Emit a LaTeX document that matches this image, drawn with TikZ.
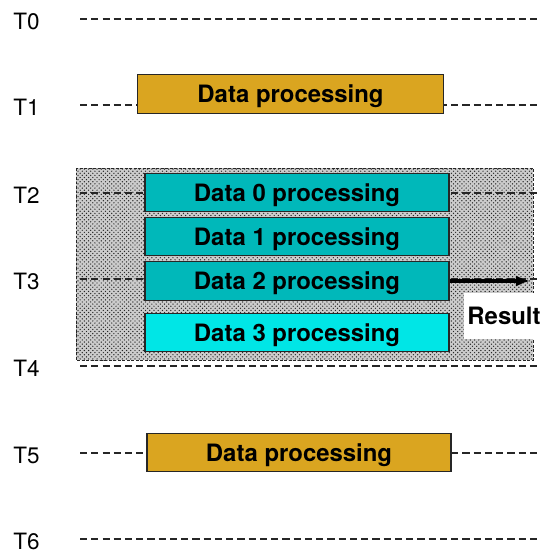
\documentclass[tikz,border=0pt]{standalone}
\usepackage{fontspec}
\setmainfont{TeX Gyre Heros}
\usetikzlibrary{patterns,arrows.meta}
\definecolor{gold}{RGB}{218,165,32}
\definecolor{tealbox}{RGB}{0,184,186}
\definecolor{cyanbox}{RGB}{0,230,230}

\begin{document}
\begin{tikzpicture}[x=0.025cm,y=-0.025cm,
    tick/.style={anchor=west,inner sep=0pt,font=\fontsize{16}{18}\selectfont},
    timeline/.style={dash pattern=on 5pt off 3pt,line width=0.9pt,black!85},
    job/.style={draw=black!85,line width=0.8pt,inner sep=0pt,minimum width=7.6cm,
      minimum height=0.96cm,text depth=0pt,font=\bfseries\fontsize{17}{20}\selectfont}]
  \useasboundingbox (0,0) rectangle (545,553);

  % shaded block for the parallel stage
  \fill[gray!40] (76,168) rectangle (533,360);
  \fill[pattern=crosshatch dots,pattern color=black!85] (76,168) rectangle (533,360);
  \draw[dash pattern=on 2pt off 1.2pt,line width=0.7pt,black!85] (76,168) rectangle (533,360);

  % time steps
  \foreach \t/\y in {0/19,1/105,2/193,3/279,4/366,5/453,6/539} {
    \node[tick] (T\t) at (13,\y+2) {T\t};
    \coordinate (s\t) at (80,\y);
    \coordinate (e\t) at (538,\y);
    \draw[timeline] (s\t) -- (e\t);
  }

  \node[job,fill=gold,minimum width=7.63cm] (dp1) at (290.5,94) {Data processing};
  \node[job,fill=tealbox] (d0) at (297,192.5) {Data 0 processing};
  \node[job,fill=tealbox] (d1) at (297,236.5) {Data 1 processing};
  \node[job,fill=tealbox] (d2) at (297,281) {Data 2 processing};
  \node[job,fill=cyanbox] (d3) at (297,332.5) {Data 3 processing};
  \node[job,fill=gold] (dp5) at (299,452.5) {Data processing};

  \node[fill=white,inner sep=0pt,minimum width=1.975cm,minimum height=1.15cm,
    font=\bfseries\fontsize{17}{19}\selectfont] (res) at (504,316) {Result};
  \coordinate (out) at (530,281);
  \draw[-{Latex[length=10pt,width=8pt]},line width=2.4pt] (d2.east) -- (out);
\end{tikzpicture}
\end{document}
